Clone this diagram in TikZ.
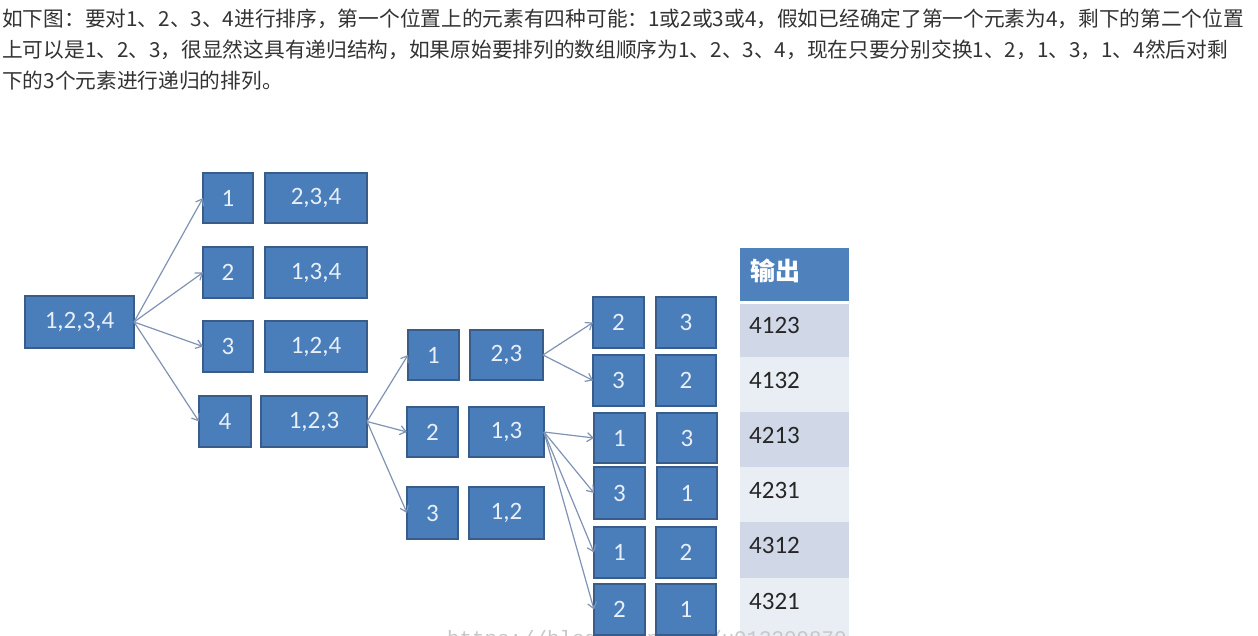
\documentclass[tikz,border=0pt]{standalone}
\usepackage{fontspec}
\usetikzlibrary{arrows.meta}
\newfontfamily\cjkfont{Noto Sans CJK SC}
\newfontfamily\boxfont{Carlito}
\newfontfamily\wmfont{Liberation Mono}
\definecolor{boxfill}{HTML}{4A7EBB}
\definecolor{boxline}{HTML}{385D8A}
\definecolor{boxtext}{HTML}{E8EFF8}
\definecolor{arrcol}{HTML}{7F93B5}
\definecolor{hdr}{HTML}{4F81BD}
\definecolor{rowdark}{HTML}{D0D8E8}
\definecolor{rowlight}{HTML}{E9EDF4}
\definecolor{bodytext}{HTML}{333333}
\tikzset{
  bx/.style={draw=boxline, line width=1.4pt, fill=boxfill, text=boxtext, inner sep=0pt, outer sep=0pt,
    anchor=north west, font=\boxfont\fontsize{25}{28}\selectfont},
  arr/.style={draw=arrcol, line width=1.2pt, -{Straight Barb[length=6pt,width=9pt]}},
  para/.style={anchor=base west, inner sep=0pt, text=bodytext, font=\cjkfont\fontsize{20.7}{25}\selectfont},
  cell/.style={anchor=base west, inner sep=0pt, text=black!85, font=\boxfont\fontsize{25}{28}\selectfont}
}
\begin{document}
\begin{tikzpicture}[x=1pt,y=-1pt]
\useasboundingbox (0,0) rectangle (1258,636);
\fill[white] (0,0) rectangle (1258,636);
% paragraph
\node[para] (l1) at (2,27) {如下图：要对1、2、3、4进行排序，第一个位置上的元素有四种可能：1或2或3或4，假如已经确定了第一个元素为4，剩下的第二个位置};
\node[para] (l2) at (2,58) {上可以是1、2、3，很显然这具有递归结构，如果原始要排列的数组顺序为1、2、3、4，现在只要分别交换1、2，1、3，1、4然后对剩};
\node[para] (l3) at (2,89) {下的3个元素进行递归的排列。};
% table
\fill[hdr] (740,248) rectangle (849,301);
\fill[rowdark] (740,304) rectangle (849,357);
\fill[rowlight] (740,357) rectangle (849,412);
\fill[rowdark] (740,412) rectangle (849,467);
\fill[rowlight] (740,467) rectangle (849,522);
\fill[rowdark] (740,522) rectangle (849,578);
\fill[rowlight] (740,578) rectangle (849,636);
\node[anchor=base west, inner sep=0pt, text=white, font=\cjkfont\bfseries\fontsize{25}{28}\selectfont] (th) at (750,281) {输出};
\node[cell] (t1) at (749,333) {4123};
\node[cell] (t2) at (749,388) {4132};
\node[cell] (t3) at (749,443) {4213};
\node[cell] (t4) at (749,498) {4231};
\node[cell] (t5) at (749,553) {4312};
\node[cell] (t6) at (749,609) {4321};
% watermark
\node[anchor=base west, inner sep=0pt, text=black!22, font=\wmfont\fontsize{20.8}{24}\selectfont] (wm) at (447,645) {https://blog.csdn.net/u013309870};
% level 0
\node[bx, minimum width=109pt, minimum height=52pt] (a) at (25,296) {1,2,3,4};
% level 1
\node[bx, minimum width=50pt, minimum height=50pt] (b1) at (203,173) {1};
\node[bx, minimum width=102pt, minimum height=50pt] (c1) at (265,173) {2,3,4};
\node[bx, minimum width=50pt, minimum height=51pt] (b2) at (203,247) {2};
\node[bx, minimum width=102pt, minimum height=51pt] (c2) at (265,247) {1,3,4};
\node[bx, minimum width=50pt, minimum height=51pt] (b3) at (203,321) {3};
\node[bx, minimum width=102pt, minimum height=51pt] (c3) at (265,321) {1,2,4};
\node[bx, minimum width=52pt, minimum height=51pt] (b4) at (199,396) {4};
\node[bx, minimum width=106pt, minimum height=51pt] (c4) at (261,396) {1,2,3};
% level 2
\node[bx, minimum width=51pt, minimum height=50pt] (d1) at (408,330) {1};
\node[bx, minimum width=73pt, minimum height=50pt] (e1) at (470,330) {2,3};
\node[bx, minimum width=51pt, minimum height=50pt] (d2) at (407,407) {2};
\node[bx, minimum width=75pt, minimum height=50pt] (e2) at (469,407) {1,3};
\node[bx, minimum width=51pt, minimum height=52pt] (d3) at (407,487) {3};
\node[bx, minimum width=75pt, minimum height=52pt] (e3) at (469,487) {1,2};
% level 3
\node[bx, minimum width=51pt, minimum height=51pt] (f1) at (593,297) {2};
\node[bx, minimum width=60pt, minimum height=51pt] (g1) at (656,297) {3};
\node[bx, minimum width=51pt, minimum height=51pt] (f2) at (593,355) {3};
\node[bx, minimum width=60pt, minimum height=51pt] (g2) at (656,355) {2};
\node[bx, minimum width=51pt, minimum height=50pt] (f3) at (594,413) {1};
\node[bx, minimum width=60pt, minimum height=50pt] (g3) at (657,413) {3};
\node[bx, minimum width=51pt, minimum height=52pt] (f4) at (594,467) {3};
\node[bx, minimum width=60pt, minimum height=52pt] (g4) at (657,467) {1};
\node[bx, minimum width=51pt, minimum height=51pt] (f5) at (594,527) {1};
\node[bx, minimum width=60pt, minimum height=51pt] (g5) at (656,527) {2};
\node[bx, minimum width=51pt, minimum height=51pt] (f6) at (594,584) {2};
\node[bx, minimum width=60pt, minimum height=51pt] (g6) at (656,584) {1};
% connectors
\draw[arr] (a.east) -- (b1.west);
\draw[arr] (a.east) -- (b2.west);
\draw[arr] (a.east) -- (b3.west);
\draw[arr] (a.east) -- (b4.west);
\draw[arr] (c4.east) -- (d1.west);
\draw[arr] (c4.east) -- (d2.west);
\draw[arr] (c4.east) -- (d3.west);
\draw[arr] (e1.east) -- (f1.west);
\draw[arr] (e1.east) -- (f2.west);
\draw[arr] (e2.east) -- (f3.west);
\draw[arr] (e2.east) -- (f4.west);
\draw[arr] (e2.east) -- (f5.west);
\draw[arr] (e2.east) -- (f6.west);
\end{tikzpicture}
\end{document}
